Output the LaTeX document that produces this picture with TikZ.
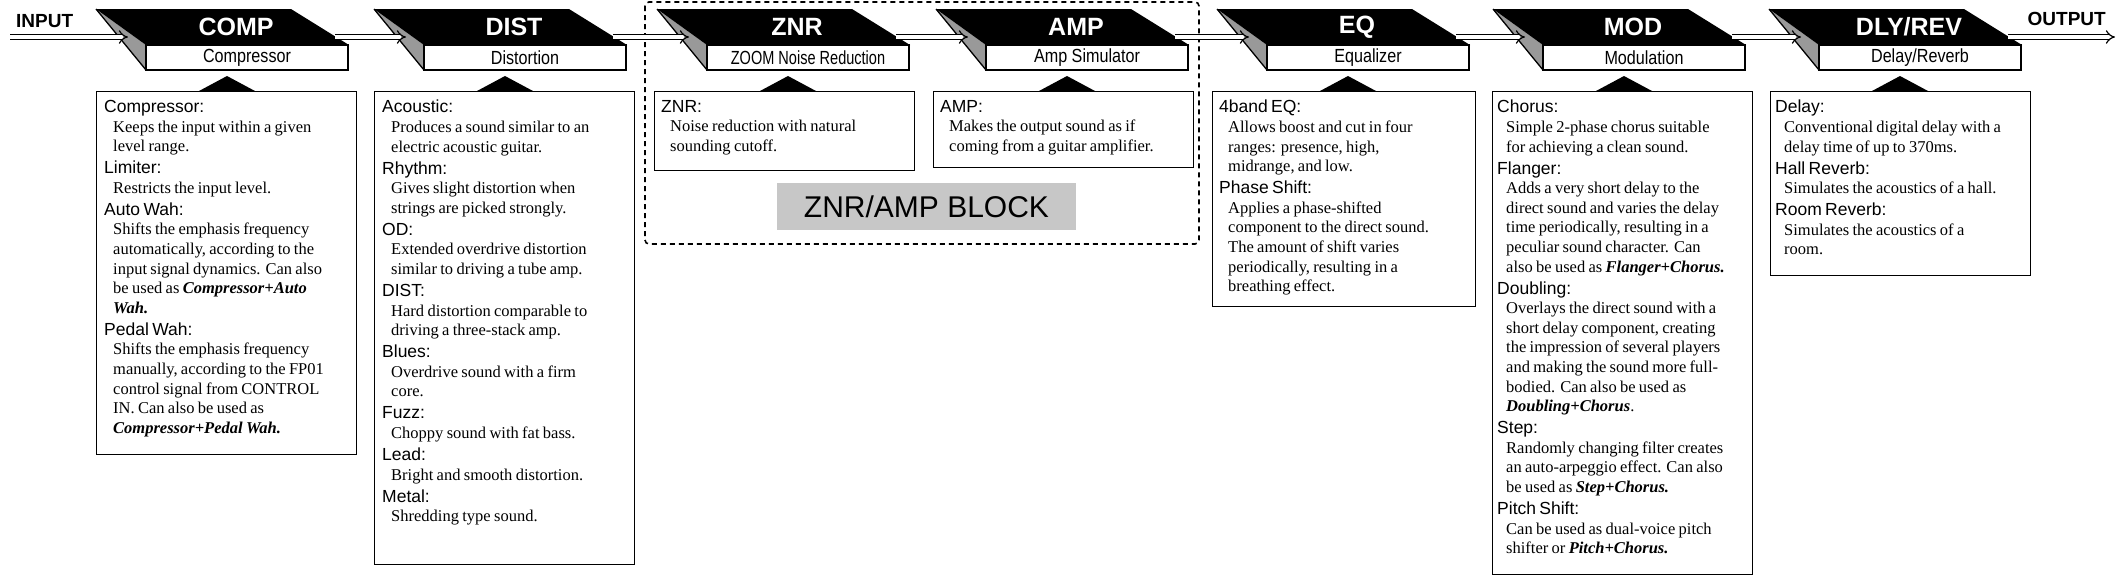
\documentclass[tikz,border=0pt]{standalone}
\usepackage{fontspec}
\setmainfont{Liberation Serif}
\setsansfont{Liberation Sans}
\usetikzlibrary{arrows.meta}
\newcommand\dhd[1]{{\sffamily\fontsize{17.5}{22}\selectfont #1\par}}
\newcommand\dbd[1]{{\rmfamily\fontsize{16.5}{19.6}\selectfont\leftskip=9pt #1\par}}
\newcommand\bi[1]{\textbf{\textit{#1}}}
\begin{document}
\begin{tikzpicture}[x=1pt,y=-1pt,
  sub/.style={draw,line width=1.6pt,fill=white,minimum width=202pt,minimum height=25pt,inner sep=0pt,font=\sffamily\fontsize{19}{19}\selectfont},
  ttl/.style={text=white,inner sep=0pt,font=\sffamily\bfseries\fontsize{25}{25}\selectfont},
  flow/.style={double=white,double distance=3.5pt,line width=1.2pt,-{Implies[scale=1.5]}},
  dbox/.style={draw,line width=1.2pt,anchor=north west,inner sep=0pt,minimum width=260pt},
  dtxt/.style={anchor=north west,inner sep=0pt,text width=252pt,align=left},
  lbl/.style={font=\sffamily\bfseries\fontsize{19}{19}\selectfont,inner sep=0pt}]
\useasboundingbox (0,0) rectangle (2118,579);
\fill[white] (0,0) rectangle (2118,579);
% ZNR/AMP block frame
\draw[line width=1.6pt,dash pattern=on 5pt off 4pt,rounded corners=4pt] (645,2) rectangle (1199,244);
\node[fill=black!22,minimum width=299pt,minimum height=47pt,inner sep=0pt,font=\sffamily\fontsize{30}{30}\selectfont] (blk) at (926.5,206.5) {ZNR/AMP BLOCK};
% modules
\foreach \x/\n/\t/\s/\b in {96/comp/COMP/Compressor/454, 374/dist/DIST/Distortion/564, 657/znr/ZNR/{\scalebox{0.9}[1]{ZOOM Noise Reduction}}/170, 936/amp/AMP/Amp Simulator/167, 1217/eq/EQ/Equalizer/306, 1493/mod/MOD/Modulation/574, 1769/dly/DLY\slash REV/Delay\slash Reverb/275}{
  \fill[black!40] (\x,9) -- ({\x+50},45) -- ({\x+50},70) -- cycle;
  \draw[line width=1.3pt] (\x,9) -- ({\x+50},70);
  \fill[black] (\x,9) -- ({\x+195},9) -- ({\x+253},45) -- ({\x+50},45) -- cycle;
  \node[ttl] (\n-t) at ({\x+140},27) {\t};
  \node[sub] (\n-s) at ({\x+151},57.5) {\scalebox{0.85}[1]{\s}};
  \fill[black] ({\x+103},91) -- ({\x+131},76) -- ({\x+159},91) -- cycle;
  \coordinate (\n-in) at ({\x+32},37);
  \coordinate (\n-out) at ({\x+239},37);
}
% description boxes
\node[dbox,minimum height=363pt] (comp-d) at (96,91) {};
\node[dbox,minimum height=473pt] (dist-d) at (374,91) {};
\node[dbox,minimum height=79pt] (znr-d) at (654,91) {};
\node[dbox,minimum height=76pt] (amp-d) at (933,91) {};
\node[dbox,minimum height=215pt,minimum width=263pt] (eq-d) at (1212,91) {};
\node[dbox,minimum height=483pt] (mod-d) at (1492,91) {};
\node[dbox,minimum height=184pt] (dly-d) at (1770,91) {};
\node[dtxt] (comp-x) at (104,100) {\dhd{Compressor:}\dbd{Keeps the input within a given\newline level range.}\dhd{Limiter:}\dbd{Restricts the input level.}\dhd{Auto Wah:}\dbd{Shifts the emphasis frequency\newline automatically, according to the\newline input signal dynamics. Can also\newline be used as \bi{Compressor+Auto}\newline \bi{Wah.}}\dhd{Pedal Wah:}\dbd{Shifts the emphasis frequency\newline manually, according to the FP01\newline control signal from CONTROL\newline IN. Can also be used as\newline \bi{Compressor+Pedal Wah.}}};
\node[dtxt] (dist-x) at (382,100) {\dhd{Acoustic:}\dbd{Produces a sound similar to an\newline electric acoustic guitar.}\dhd{Rhythm:}\dbd{Gives slight distortion when\newline strings are picked strongly.}\dhd{OD:}\dbd{Extended overdrive distortion\newline similar to driving a tube amp.}\dhd{DIST:}\dbd{Hard distortion comparable to\newline driving a three-stack amp.}\dhd{Blues:}\dbd{Overdrive sound with a firm\newline core.}\dhd{Fuzz:}\dbd{Choppy sound with fat bass.}\dhd{Lead:}\dbd{Bright and smooth distortion.}\dhd{Metal:}\dbd{Shredding type sound.}};
\node[dtxt] (znr-x) at (661,100) {\dhd{ZNR:}\dbd{Noise reduction with natural\newline sounding cutoff.}};
\node[dtxt] (amp-x) at (940,100) {\dhd{AMP:}\dbd{Makes the output sound as if\newline coming from a guitar amplifier.}};
\node[dtxt] (eq-x) at (1219,100) {\dhd{4band EQ:}\dbd{Allows boost and cut in four\newline ranges: presence, high,\newline midrange, and low.}\dhd{Phase Shift:}\dbd{Applies a phase-shifted\newline component to the direct sound.\newline The amount of shift varies\newline periodically, resulting in a\newline breathing effect.}};
\node[dtxt] (mod-x) at (1497,100) {\dhd{Chorus:}\dbd{Simple 2-phase chorus suitable\newline for achieving a clean sound.}\dhd{Flanger:}\dbd{Adds a very short delay to the\newline direct sound and varies the delay\newline time periodically, resulting in a\newline peculiar sound character. Can\newline also be used as \bi{Flanger+Chorus.}}\dhd{Doubling:}\dbd{Overlays the direct sound with a\newline short delay component, creating\newline the impression of several players\newline and making the sound more full-\newline bodied. Can also be used as\newline \bi{Doubling+Chorus}.}\dhd{Step:}\dbd{Randomly changing filter creates\newline an auto-arpeggio effect. Can also\newline be used as \bi{Step+Chorus.}}\dhd{Pitch Shift:}\dbd{Can be used as dual-voice pitch\newline shifter or \bi{Pitch+Chorus.}}};
\node[dtxt] (dly-x) at (1775,100) {\dhd{Delay:}\dbd{Conventional digital delay with a\newline delay time of up to 370ms.}\dhd{Hall Reverb:}\dbd{Simulates the acoustics of a hall.}\dhd{Room Reverb:}\dbd{Simulates the acoustics of a\newline room.}};
% signal flow
\coordinate (in0) at (10,37);
\coordinate (out0) at (2115,37);
\node[lbl,anchor=west] (inl) at (16,21) {INPUT};
\node[lbl,anchor=east] (outl) at (2106,19) {OUTPUT};
\draw[flow] (in0) -- (comp-in);
\draw[flow] (comp-out) -- (dist-in);
\draw[flow] (dist-out) -- (znr-in);
\draw[flow] (znr-out) -- (amp-in);
\draw[flow] (amp-out) -- (eq-in);
\draw[flow] (eq-out) -- (mod-in);
\draw[flow] (mod-out) -- (dly-in);
\draw[flow] (dly-out) -- (out0);
\end{tikzpicture}
\end{document}
